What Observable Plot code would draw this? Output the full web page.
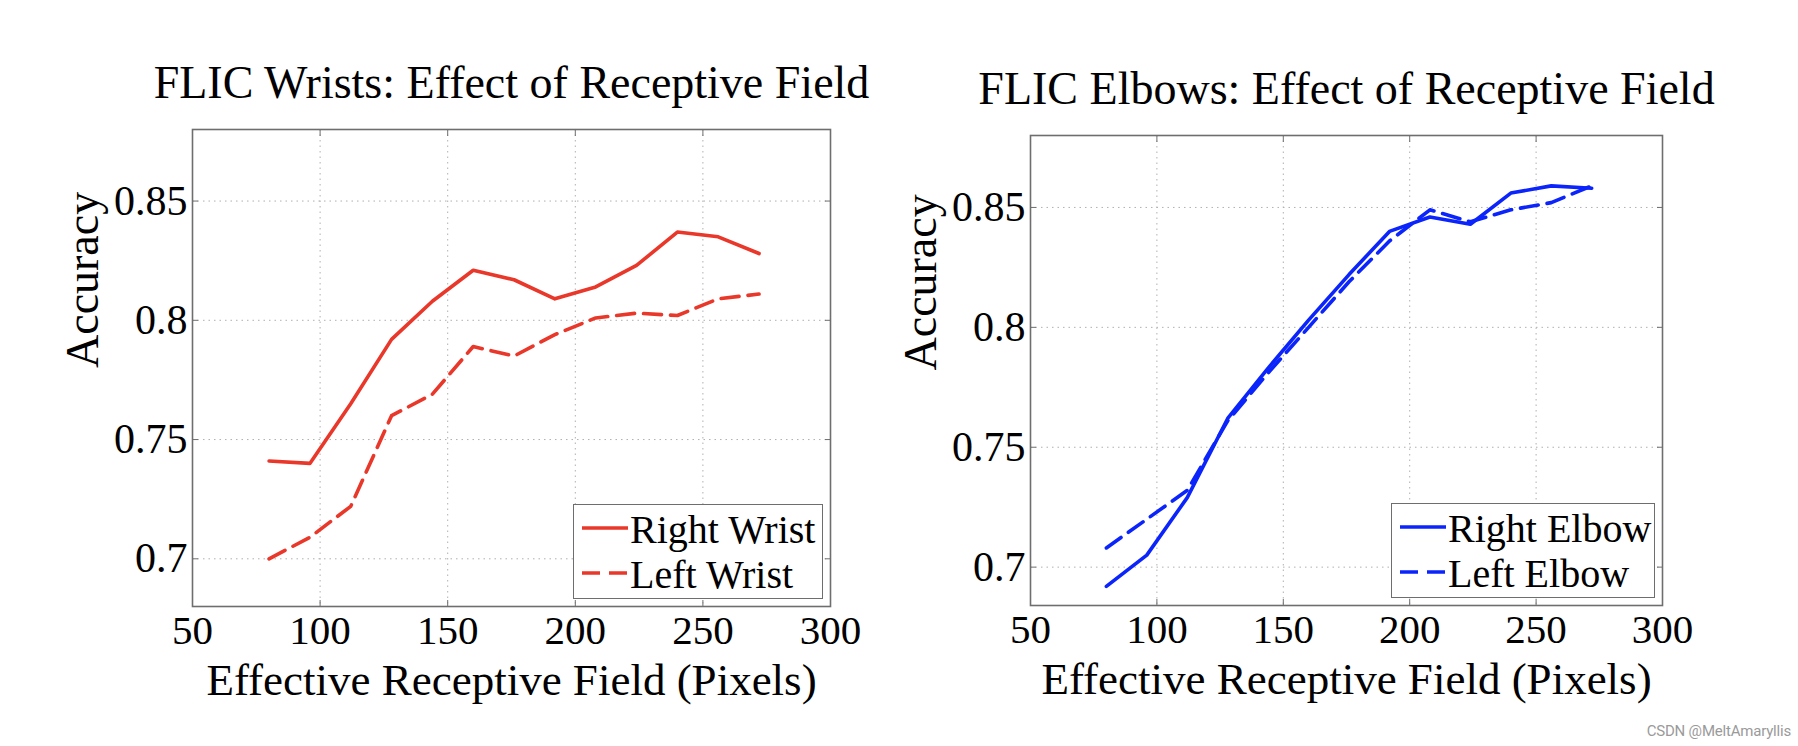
<!DOCTYPE html>
<html>
<head>
<meta charset="utf-8">
<script src="https://cdn.jsdelivr.net/npm/d3@7"></script>
<script src="https://cdn.jsdelivr.net/npm/@observablehq/plot@0.6"></script>
<style>
  html, body { margin: 0; padding: 0; background: #fff; }
  #root { position: relative; width: 1798px; height: 746px; overflow: hidden; background: #fff; }
  .panel { position: absolute; top: 0; width: 899px; height: 746px; }
  .legend { position: absolute; box-sizing: border-box; border: 1.5px solid #6e6e6e; background: #fff;
            font-family: 'Liberation Serif', 'Times New Roman', serif; font-size: 40px; color: #000; }
  .legend .row { position: absolute; left: 0; right: 0; height: 40px; line-height: 40px; white-space: nowrap; }
  .legend .row svg { position: absolute; left: 7px; top: 0; }
  .legend .row span { position: absolute; left: 56px; top: 0; }
  .wm { position: absolute; right: 7px; bottom: 6px; font-family: Roboto, 'Noto Sans', sans-serif;
        font-size: 15px; color: #9a9a9a; letter-spacing: -0.2px; }
</style>
</head>
<body>
<div id="root"></div>
<script>
// ---- data ----
const receptiveField = [80, 96, 112, 128, 144, 160, 176, 192, 208, 224, 240, 256, 272];
const rightWrist = [0.741, 0.740, 0.765, 0.792, 0.808, 0.821, 0.817, 0.809, 0.814, 0.823, 0.837, 0.835, 0.828];
const leftWrist  = [0.700, 0.709, 0.722, 0.760, 0.769, 0.789, 0.785, 0.794, 0.801, 0.803, 0.802, 0.809, 0.811];
const rightElbow = [0.692, 0.705, 0.729, 0.762, 0.783, 0.803, 0.822, 0.840, 0.846, 0.843, 0.856, 0.859, 0.858];
const leftElbow  = [0.708, 0.720, 0.732, 0.761, 0.781, 0.800, 0.819, 0.836, 0.849, 0.844, 0.849, 0.852, 0.859];
const xTicks = [50, 100, 150, 200, 250, 300];
const yTicks = [0.7, 0.75, 0.8, 0.85];
const xGrid = [100, 150, 200, 250];
const titles = ["FLIC Wrists: Effect of Receptive Field", "FLIC Elbows: Effect of Receptive Field"];
const xLabel = "Effective Receptive Field (Pixels)";
const yLabel = "Accuracy";

const SERIF = "'Liberation Serif', 'Times New Roman', serif";
const RED = "#e9372a";
const BLUE = "#0b24fb";
const DASH = "18,9";

function panel({title, series, colour, yDomain, left, m, legendWidth}) {
  const rows = series.flatMap(s => s.values.map((v, i) => ({x: receptiveField[i], y: v, name: s.name})));
  const W = 899, H = 746;
  const axisStroke = "#6e6e6e";
  const plot = Plot.plot({
    width: W, height: H,
    marginLeft: m.left, marginRight: m.right, marginTop: m.top, marginBottom: m.bottom,
    style: {fontFamily: SERIF, background: "transparent", overflow: "visible", color: "#000"},
    x: {domain: [50, 300]},
    y: {domain: yDomain},
    marks: [
      Plot.gridX(xGrid, {stroke: "#b0b0b0", strokeOpacity: 1, strokeWidth: 1, strokeDasharray: "1.5,4"}),
      Plot.gridY(yTicks, {stroke: "#b0b0b0", strokeOpacity: 1, strokeWidth: 1, strokeDasharray: "1.5,4"}),
      // inward tick marks on all four sides
      Plot.axisX(xTicks, {anchor: "bottom", tickSize: -6, text: null, label: null, stroke: axisStroke}),
      Plot.axisX(xTicks, {anchor: "top", tickSize: -6, text: null, label: null, stroke: axisStroke}),
      Plot.axisY(yTicks, {anchor: "left", tickSize: -6, text: null, label: null, stroke: axisStroke}),
      Plot.axisY(yTicks, {anchor: "right", tickSize: -6, text: null, label: null, stroke: axisStroke}),
      // tick labels
      Plot.axisX(xTicks, {anchor: "bottom", tickSize: 0, tickPadding: 8, fontSize: 41, label: null,
                          tickFormat: d => String(d), fill: "#000"}),
      Plot.axisY(yTicks, {anchor: "left", tickSize: 0, tickPadding: 5, fontSize: 42, label: null,
                          tickFormat: d => String(Math.round(d * 100) / 100), fill: "#000"}),
      ...series.map(s => Plot.line(rows.filter(r => r.name === s.name), {
        x: "x", y: "y", stroke: colour, strokeWidth: 3.6,
        strokeDasharray: s.dashed ? DASH : null, strokeLinejoin: "round"
      })),
      Plot.frame({stroke: axisStroke, strokeWidth: 1.6}),
      Plot.text([title], {text: d => d, frameAnchor: "top", lineAnchor: "bottom", dy: -32,
                          fontSize: 46, fill: "#000"}),
      Plot.text([xLabel], {text: d => d, frameAnchor: "bottom", lineAnchor: "bottom", dy: 88,
                           fontSize: 45, fill: "#000"}),
      Plot.text([yLabel], {text: d => d, frameAnchor: "left", lineAnchor: "bottom", rotate: -90, dx: -95,
                           fontSize: 46, fill: "#000"})
    ]
  });

  const div = document.createElement("div");
  div.className = "panel";
  div.style.left = left + "px";
  div.appendChild(plot);

  // legend box inside the plot frame, bottom-right
  const lg = document.createElement("div");
  lg.className = "legend";
  lg.style.width = legendWidth + "px";
  lg.style.height = "95px";
  lg.style.right = (m.right + 7) + "px";
  lg.style.bottom = (m.bottom + 7) + "px";
  series.forEach((s, i) => {
    const row = document.createElement("div");
    row.className = "row";
    row.style.top = (5 + i * 45) + "px";
    row.innerHTML =
      `<svg width="48" height="40"><line x1="1" x2="47" y1="18" y2="18" stroke="${colour}" stroke-width="3.6"` +
      (s.dashed ? ` stroke-dasharray="18,9"` : "") + `/></svg><span>${s.name}</span>`;
    lg.appendChild(row);
  });
  div.appendChild(lg);
  return div;
}

const root = document.getElementById("root");
root.appendChild(panel({
  title: titles[0],
  series: [{name: "Right Wrist", values: rightWrist, dashed: false},
           {name: "Left Wrist", values: leftWrist, dashed: true}],
  colour: RED, yDomain: [0.68, 0.88], left: 0,
  m: {left: 192, right: 69, top: 129, bottom: 140}, legendWidth: 250
}));
root.appendChild(panel({
  title: titles[1],
  series: [{name: "Right Elbow", values: rightElbow, dashed: false},
           {name: "Left Elbow", values: leftElbow, dashed: true}],
  colour: BLUE, yDomain: [0.684, 0.88], left: 899,
  m: {left: 131, right: 136, top: 135, bottom: 141}, legendWidth: 264
}));
const wm = document.createElement("div");
wm.className = "wm";
wm.textContent = "CSDN @MeltAmaryllis";
root.appendChild(wm);
</script>
</body>
</html>
